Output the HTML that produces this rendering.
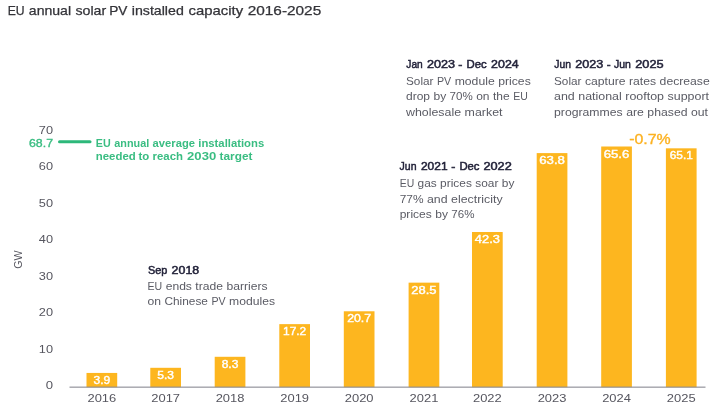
<!DOCTYPE html>
<html lang="en"><head><meta charset="utf-8"><title>EU annual solar PV installed capacity 2016-2025</title>
<style>
html,body{margin:0;padding:0;background:#fff;}
body{width:728px;height:410px;overflow:hidden;font-family:"Liberation Sans",sans-serif;}
svg{display:block}
text{font-family:"Liberation Sans",sans-serif;}
.t{fill:#333338;font-size:12.6px;stroke:#333338;stroke-width:.25px}
.ax{fill:#56565f;font-size:11px}
.b{fill:#23233a;font-size:11.3px;stroke:#23233a;stroke-width:.5px}
.n{fill:#5a5b64;font-size:11.3px}
.g{fill:#3abd82;font-size:11.5px;font-weight:bold}
.g2{fill:#3abd82;font-size:11px;stroke:#3abd82;stroke-width:.35px}
.v{fill:#fff;font-size:10.8px;stroke:#fff;stroke-width:.4px}
.o{fill:#fcb222;font-size:14px;stroke:#fcb222;stroke-width:.35px}
</style></head><body>
<svg width="728" height="410" viewBox="0 0 728 410">
<rect width="728" height="410" fill="#fff"/>
<text class="t" y="15"><tspan x="7.70" textLength="16.90" lengthAdjust="spacingAndGlyphs">EU</tspan> <tspan x="28.80" textLength="42.30" lengthAdjust="spacingAndGlyphs">annual</tspan> <tspan x="75.40" textLength="30.80" lengthAdjust="spacingAndGlyphs">solar</tspan> <tspan x="109.20" textLength="18.20" lengthAdjust="spacingAndGlyphs">PV</tspan> <tspan x="131.80" textLength="52.00" lengthAdjust="spacingAndGlyphs">installed</tspan> <tspan x="188.50" textLength="54.60" lengthAdjust="spacingAndGlyphs">capacity</tspan> <tspan x="247.70" textLength="73.55" lengthAdjust="spacingAndGlyphs">2016-2025</tspan></text>
<text class="ax" y="389.0"><tspan x="45.70" textLength="7.30" lengthAdjust="spacingAndGlyphs">0</tspan></text>
<text class="ax" y="352.54"><tspan x="38.80" textLength="14.20" lengthAdjust="spacingAndGlyphs">10</tspan></text>
<text class="ax" y="316.08"><tspan x="38.80" textLength="14.20" lengthAdjust="spacingAndGlyphs">20</tspan></text>
<text class="ax" y="279.62"><tspan x="38.80" textLength="14.20" lengthAdjust="spacingAndGlyphs">30</tspan></text>
<text class="ax" y="243.16"><tspan x="38.80" textLength="14.20" lengthAdjust="spacingAndGlyphs">40</tspan></text>
<text class="ax" y="206.7"><tspan x="38.80" textLength="14.20" lengthAdjust="spacingAndGlyphs">50</tspan></text>
<text class="ax" y="170.24"><tspan x="38.80" textLength="14.20" lengthAdjust="spacingAndGlyphs">60</tspan></text>
<text class="ax" y="133.78"><tspan x="38.80" textLength="14.20" lengthAdjust="spacingAndGlyphs">70</tspan></text>
<text class="g2" y="146.8"><tspan x="29.00" textLength="24.00" lengthAdjust="spacingAndGlyphs">68.7</tspan></text>
<line x1="59.5" y1="141.8" x2="90" y2="141.8" stroke="#2db87a" stroke-width="3" stroke-linecap="round"/>
<text class="g" y="146.8"><tspan x="95.80" textLength="14.90" lengthAdjust="spacingAndGlyphs">EU</tspan> <tspan x="114.30" textLength="34.90" lengthAdjust="spacingAndGlyphs">annual</tspan> <tspan x="152.60" textLength="42.40" lengthAdjust="spacingAndGlyphs">average</tspan> <tspan x="198.30" textLength="65.90" lengthAdjust="spacingAndGlyphs">installations</tspan></text>
<text class="g" y="160"><tspan x="95.80" textLength="39.90" lengthAdjust="spacingAndGlyphs">needed</tspan> <tspan x="138.40" textLength="10.80" lengthAdjust="spacingAndGlyphs">to</tspan> <tspan x="152.60" textLength="30.40" lengthAdjust="spacingAndGlyphs">reach</tspan> <tspan x="187.10" textLength="29.10" lengthAdjust="spacingAndGlyphs">2030</tspan> <tspan x="219.60" textLength="32.90" lengthAdjust="spacingAndGlyphs">target</tspan></text>
<text class="ax" transform="translate(21.5,268.7) rotate(-90)" textLength="18.4" lengthAdjust="spacingAndGlyphs">GW</text>
<rect x="86.50" y="372.94" width="30.7" height="14.31" fill="#fdb61f"/>
<text class="v" y="384.04"><tspan x="93.47" textLength="16.75" lengthAdjust="spacingAndGlyphs">3.9</tspan></text>
<text class="ax" y="401.75"><tspan x="87.45" textLength="28.80" lengthAdjust="spacingAndGlyphs">2016</tspan></text>
<rect x="150.30" y="367.80" width="30.7" height="19.45" fill="#fdb61f"/>
<text class="v" y="378.9"><tspan x="157.28" textLength="16.75" lengthAdjust="spacingAndGlyphs">5.3</tspan></text>
<text class="ax" y="401.75"><tspan x="151.25" textLength="28.80" lengthAdjust="spacingAndGlyphs">2017</tspan></text>
<rect x="214.70" y="356.79" width="30.7" height="30.46" fill="#fdb61f"/>
<text class="v" y="367.89"><tspan x="221.67" textLength="16.75" lengthAdjust="spacingAndGlyphs">8.3</tspan></text>
<text class="ax" y="401.75"><tspan x="215.65" textLength="28.80" lengthAdjust="spacingAndGlyphs">2018</tspan></text>
<rect x="279.30" y="324.13" width="30.7" height="63.12" fill="#fdb61f"/>
<text class="v" y="335.23"><tspan x="283.03" textLength="23.25" lengthAdjust="spacingAndGlyphs">17.2</tspan></text>
<text class="ax" y="401.75"><tspan x="280.25" textLength="28.80" lengthAdjust="spacingAndGlyphs">2019</tspan></text>
<rect x="343.80" y="311.28" width="30.7" height="75.97" fill="#fdb61f"/>
<text class="v" y="322.38"><tspan x="347.20" textLength="23.90" lengthAdjust="spacingAndGlyphs">20.7</tspan></text>
<text class="ax" y="401.75"><tspan x="344.75" textLength="28.80" lengthAdjust="spacingAndGlyphs">2020</tspan></text>
<rect x="408.60" y="282.65" width="30.7" height="104.59" fill="#fdb61f"/>
<text class="v" y="293.75"><tspan x="411.35" textLength="25.20" lengthAdjust="spacingAndGlyphs">28.5</tspan></text>
<text class="ax" y="401.75"><tspan x="409.55" textLength="28.80" lengthAdjust="spacingAndGlyphs">2021</tspan></text>
<rect x="472.00" y="232.01" width="30.7" height="155.24" fill="#fdb61f"/>
<text class="v" y="243.11"><tspan x="474.85" textLength="25.00" lengthAdjust="spacingAndGlyphs">42.3</tspan></text>
<text class="ax" y="401.75"><tspan x="472.95" textLength="28.80" lengthAdjust="spacingAndGlyphs">2022</tspan></text>
<rect x="536.70" y="153.10" width="30.7" height="234.15" fill="#fdb61f"/>
<text class="v" y="164.2"><tspan x="539.18" textLength="25.75" lengthAdjust="spacingAndGlyphs">63.8</tspan></text>
<text class="ax" y="401.75"><tspan x="537.65" textLength="28.80" lengthAdjust="spacingAndGlyphs">2023</tspan></text>
<rect x="601.20" y="146.50" width="30.7" height="240.75" fill="#fdb61f"/>
<text class="v" y="157.6"><tspan x="603.80" textLength="25.50" lengthAdjust="spacingAndGlyphs">65.6</tspan></text>
<text class="ax" y="401.75"><tspan x="602.15" textLength="28.80" lengthAdjust="spacingAndGlyphs">2024</tspan></text>
<rect x="665.90" y="148.33" width="30.7" height="238.92" fill="#fdb61f"/>
<text class="v" y="159.43"><tspan x="669.75" textLength="23.00" lengthAdjust="spacingAndGlyphs">65.1</tspan></text>
<text class="ax" y="401.75"><tspan x="666.85" textLength="28.80" lengthAdjust="spacingAndGlyphs">2025</tspan></text>
<rect x="69.5" y="386.6" width="636" height="1.1" fill="#8a8b93"/>
<text class="b" y="274.25"><tspan x="147.90" textLength="19.40" lengthAdjust="spacingAndGlyphs">Sep</tspan> <tspan x="171.60" textLength="27.60" lengthAdjust="spacingAndGlyphs">2018</tspan></text>
<text class="n" y="290"><tspan x="147.50" textLength="14.72" lengthAdjust="spacingAndGlyphs">EU</tspan> <tspan x="165.68" textLength="26.26" lengthAdjust="spacingAndGlyphs">ends</tspan> <tspan x="195.39" textLength="27.60" lengthAdjust="spacingAndGlyphs">trade</tspan> <tspan x="226.45" textLength="41.05" lengthAdjust="spacingAndGlyphs">barriers</tspan></text>
<text class="n" y="305.2"><tspan x="147.50" textLength="13.51" lengthAdjust="spacingAndGlyphs">on</tspan> <tspan x="164.48" textLength="43.48" lengthAdjust="spacingAndGlyphs">Chinese</tspan> <tspan x="211.43" textLength="14.18" lengthAdjust="spacingAndGlyphs">PV</tspan> <tspan x="229.08" textLength="45.92" lengthAdjust="spacingAndGlyphs">modules</tspan></text>
<text class="b" y="170"><tspan x="399.60" textLength="16.90" lengthAdjust="spacingAndGlyphs">Jun</tspan> <tspan x="420.90" textLength="26.70" lengthAdjust="spacingAndGlyphs">2021</tspan> <tspan x="451.30" textLength="4.10" lengthAdjust="spacingAndGlyphs">-</tspan> <tspan x="459.40" textLength="20.10" lengthAdjust="spacingAndGlyphs">Dec</tspan> <tspan x="483.40" textLength="28.40" lengthAdjust="spacingAndGlyphs">2022</tspan></text>
<text class="n" y="187.2"><tspan x="399.70" textLength="14.47" lengthAdjust="spacingAndGlyphs">EU</tspan> <tspan x="417.56" textLength="19.19" lengthAdjust="spacingAndGlyphs">gas</tspan> <tspan x="440.14" textLength="31.75" lengthAdjust="spacingAndGlyphs">prices</tspan> <tspan x="475.28" textLength="23.15" lengthAdjust="spacingAndGlyphs">soar</tspan> <tspan x="501.83" textLength="12.57" lengthAdjust="spacingAndGlyphs">by</tspan></text>
<text class="n" y="202.8"><tspan x="399.70" textLength="23.79" lengthAdjust="spacingAndGlyphs">77%</tspan> <tspan x="427.01" textLength="20.60" lengthAdjust="spacingAndGlyphs">and</tspan> <tspan x="451.14" textLength="51.46" lengthAdjust="spacingAndGlyphs">electricity</tspan></text>
<text class="n" y="218.2"><tspan x="399.70" textLength="32.08" lengthAdjust="spacingAndGlyphs">prices</tspan> <tspan x="435.21" textLength="12.70" lengthAdjust="spacingAndGlyphs">by</tspan> <tspan x="451.34" textLength="23.16" lengthAdjust="spacingAndGlyphs">76%</tspan></text>
<text class="b" y="68.25"><tspan x="406.30" textLength="16.40" lengthAdjust="spacingAndGlyphs">Jan</tspan> <tspan x="426.90" textLength="28.10" lengthAdjust="spacingAndGlyphs">2023</tspan> <tspan x="458.20" textLength="4.10" lengthAdjust="spacingAndGlyphs">-</tspan> <tspan x="466.60" textLength="20.20" lengthAdjust="spacingAndGlyphs">Dec</tspan> <tspan x="491.10" textLength="27.60" lengthAdjust="spacingAndGlyphs">2024</tspan></text>
<text class="n" y="84.5"><tspan x="406.00" textLength="27.47" lengthAdjust="spacingAndGlyphs">Solar</tspan> <tspan x="436.96" textLength="14.25" lengthAdjust="spacingAndGlyphs">PV</tspan> <tspan x="454.68" textLength="40.03" lengthAdjust="spacingAndGlyphs">module</tspan> <tspan x="498.19" textLength="32.56" lengthAdjust="spacingAndGlyphs">prices</tspan></text>
<text class="n" y="100"><tspan x="406.00" textLength="24.06" lengthAdjust="spacingAndGlyphs">drop</tspan> <tspan x="433.49" textLength="12.70" lengthAdjust="spacingAndGlyphs">by</tspan> <tspan x="449.61" textLength="23.15" lengthAdjust="spacingAndGlyphs">70%</tspan> <tspan x="476.20" textLength="13.37" lengthAdjust="spacingAndGlyphs">on</tspan> <tspan x="493.00" textLength="16.71" lengthAdjust="spacingAndGlyphs">the</tspan> <tspan x="513.14" textLength="14.61" lengthAdjust="spacingAndGlyphs">EU</tspan></text>
<text class="n" y="115.5"><tspan x="406.00" textLength="55.10" lengthAdjust="spacingAndGlyphs">wholesale</tspan> <tspan x="464.63" textLength="37.87" lengthAdjust="spacingAndGlyphs">market</tspan></text>
<text class="b" y="68.25"><tspan x="554.30" textLength="16.70" lengthAdjust="spacingAndGlyphs">Jun</tspan> <tspan x="575.20" textLength="28.10" lengthAdjust="spacingAndGlyphs">2023</tspan> <tspan x="606.80" textLength="3.90" lengthAdjust="spacingAndGlyphs">-</tspan> <tspan x="613.90" textLength="16.90" lengthAdjust="spacingAndGlyphs">Jun</tspan> <tspan x="635.20" textLength="28.40" lengthAdjust="spacingAndGlyphs">2025</tspan></text>
<text class="n" y="84.5"><tspan x="554.00" textLength="27.44" lengthAdjust="spacingAndGlyphs">Solar</tspan> <tspan x="584.91" textLength="40.65" lengthAdjust="spacingAndGlyphs">capture</tspan> <tspan x="629.04" textLength="27.09" lengthAdjust="spacingAndGlyphs">rates</tspan> <tspan x="659.61" textLength="50.14" lengthAdjust="spacingAndGlyphs">decrease</tspan></text>
<text class="n" y="100"><tspan x="554.00" textLength="20.73" lengthAdjust="spacingAndGlyphs">and</tspan> <tspan x="578.27" textLength="43.52" lengthAdjust="spacingAndGlyphs">national</tspan> <tspan x="625.34" textLength="38.68" lengthAdjust="spacingAndGlyphs">rooftop</tspan> <tspan x="667.56" textLength="41.44" lengthAdjust="spacingAndGlyphs">support</tspan></text>
<text class="n" y="115.5"><tspan x="554.00" textLength="68.68" lengthAdjust="spacingAndGlyphs">programmes</tspan> <tspan x="626.18" textLength="17.69" lengthAdjust="spacingAndGlyphs">are</tspan> <tspan x="647.35" textLength="40.15" lengthAdjust="spacingAndGlyphs">phased</tspan> <tspan x="690.99" textLength="17.01" lengthAdjust="spacingAndGlyphs">out</tspan></text>
<text class="o" y="143.7"><tspan x="629.20" textLength="41.50" lengthAdjust="spacingAndGlyphs">-0.7%</tspan></text>
</svg>
</body></html>
